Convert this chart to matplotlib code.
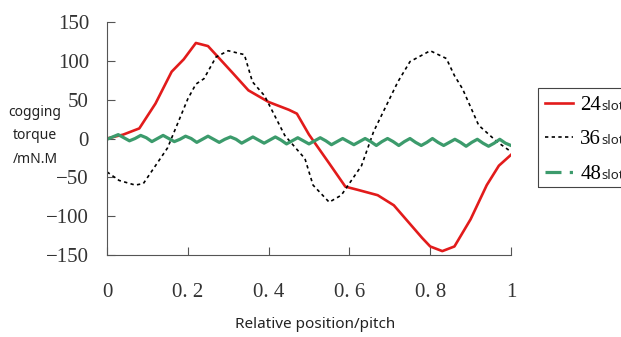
import numpy as np
import matplotlib.pyplot as plt
import matplotlib.lines as mlines
from matplotlib.patches import Rectangle

# 24 slot
x24 = [0, 0.04, 0.08, 0.12, 0.16, 0.19, 0.22, 0.25, 0.28, 0.31, 0.35, 0.4, 0.45,
       0.47, 0.5, 0.55, 0.59, 0.62, 0.67, 0.71, 0.75, 0.78, 0.8, 0.83, 0.86,
       0.9, 0.94, 0.97, 1.0]
y24 = [0, 5, 13, 45, 86, 102, 123, 119, 102, 85, 62, 47, 37,
       32, 5, -32, -62, -66, -73, -86, -110, -128, -139, -145, -139,
       -104, -60, -35, -21]

# 36 slot
x36 = [0, 0.03, 0.07, 0.09, 0.12, 0.15, 0.2, 0.22, 0.24, 0.27, 0.3, 0.34, 0.36,
       0.39, 0.44, 0.49, 0.51, 0.55, 0.58, 0.63, 0.66, 0.72, 0.75, 0.8, 0.84,
       0.86, 0.88, 0.92, 0.965, 1.0]
y36 = [-43, -54, -60, -58, -35, -12, 51, 70, 77, 105, 113, 108, 73,
       55, 4, -26, -60, -82, -73, -35, 9, 73, 99, 113, 103,
       81, 64, 17, -4, -17]

# 48 slot (small ripple), peak / mid / trough / mid
y48 = [-1, 2, 5, 1, -3, 0, 4, 1, -4, 0, 4, 0, -4, -1, 3, 0, -5, -1, 3, -1,
       -5, -1, 2, -1, -6, -2, 2, -2, -6, -2, 2, -2, -7, -3, 1, -3, -7, -3, 1, -3,
       -8, -4, 0, -4, -8, -4, 0, -4, -9, -4, 0, -4, -9, -4, 0, -5, -9, -5, 0, -5,
       -9, -5, -1, -5, -10, -5, -1, -6, -10, -6, -1, -6, -9]
x48 = np.linspace(0, 1, len(y48))

labels = ['24', '36', '48']
xticks = [0, 0.2, 0.4, 0.6, 0.8, 1]
xticklabels = ['0', '0. 2', '0. 4', '0. 6', '0. 8', '1']
yticks = [-150, -100, -50, 0, 50, 100, 150]
serif = ['Liberation Serif', 'DejaVu Serif']

fig = plt.figure(figsize=(6.21, 3.37), dpi=100)
ax = fig.add_axes([107 / 621, 1 - 255 / 337, 404 / 621, 233 / 337])

l1, = ax.plot(x24, y24, color='#e21b1b', linewidth=1.9)
l2, = ax.plot(x36, y36, color='black', linewidth=1.2, linestyle=(0, (2, 2)))
ax.plot(x48, y48, color='#3c9b6c', linewidth=2.3, linestyle='-')

ax.set_xlim(0, 1)
ax.set_ylim(-150, 150)
ax.set_xticks(xticks)
ax.set_xticklabels(xticklabels)
ax.set_yticks(yticks)
for s in ['top', 'right']:
    ax.spines[s].set_visible(False)
for s in ['left', 'bottom']:
    ax.spines[s].set_color('#555555')
ax.tick_params(direction='in', length=6, color='#555555', labelsize=15)
ax.tick_params(axis='x', pad=20)
ax.tick_params(axis='y', pad=13)
for t in ax.get_xticklabels() + ax.get_yticklabels():
    t.set_family(serif)
    t.set_color('#333333')

fig.text(35 / 621, 1 - 136 / 337, 'cogging\ntorque\n/mN.M', ha='center', va='center',
         fontsize=10, family='Noto Sans', linespacing=1.75, color='#222222')
fig.text(315 / 621, 1 - 325 / 337, 'Relative position/pitch', ha='center', va='center',
         fontsize=11, family='Noto Sans', color='#222222')

# legend without its own frame; the box is drawn by hand and runs off the right edge
l3 = mlines.Line2D([], [], color='#3c9b6c', linewidth=2.3, linestyle=(0, (5, 2.6, 1, 3)))
leg = fig.legend([l1, l2, l3], labels, loc='upper left',
                 bbox_to_anchor=(538 / 621, 1 - 88 / 337),
                 borderaxespad=0, frameon=False,
                 prop={'family': serif, 'size': 15}, handlelength=1.35,
                 handletextpad=0.33, labelspacing=0.72, borderpad=0.35)
fig.patches.append(Rectangle((538 / 621, 1 - 187 / 337), 100 / 621, 99 / 337,
                             transform=fig.transFigure, fill=False,
                             edgecolor='#444444', linewidth=0.8))

fig.canvas.draw()
r = fig.canvas.get_renderer()
W, H = fig.bbox.width, fig.bbox.height
# baseline offset of the legend digits
probe = fig.text(0.5, 0.5, '24', fontsize=15, family=serif, va='baseline')
base_off = 0.5 * H - probe.get_window_extent(r).y0
probe.remove()
for t in leg.get_texts():
    bb = t.get_window_extent(r)
    fig.text(bb.x1 / W, (bb.y0 + base_off) / H, 'slot', fontsize=9.5, zorder=10,
             family='Noto Sans', va='baseline', ha='left', color='#222222')

fig.savefig('out.png', dpi=100)
